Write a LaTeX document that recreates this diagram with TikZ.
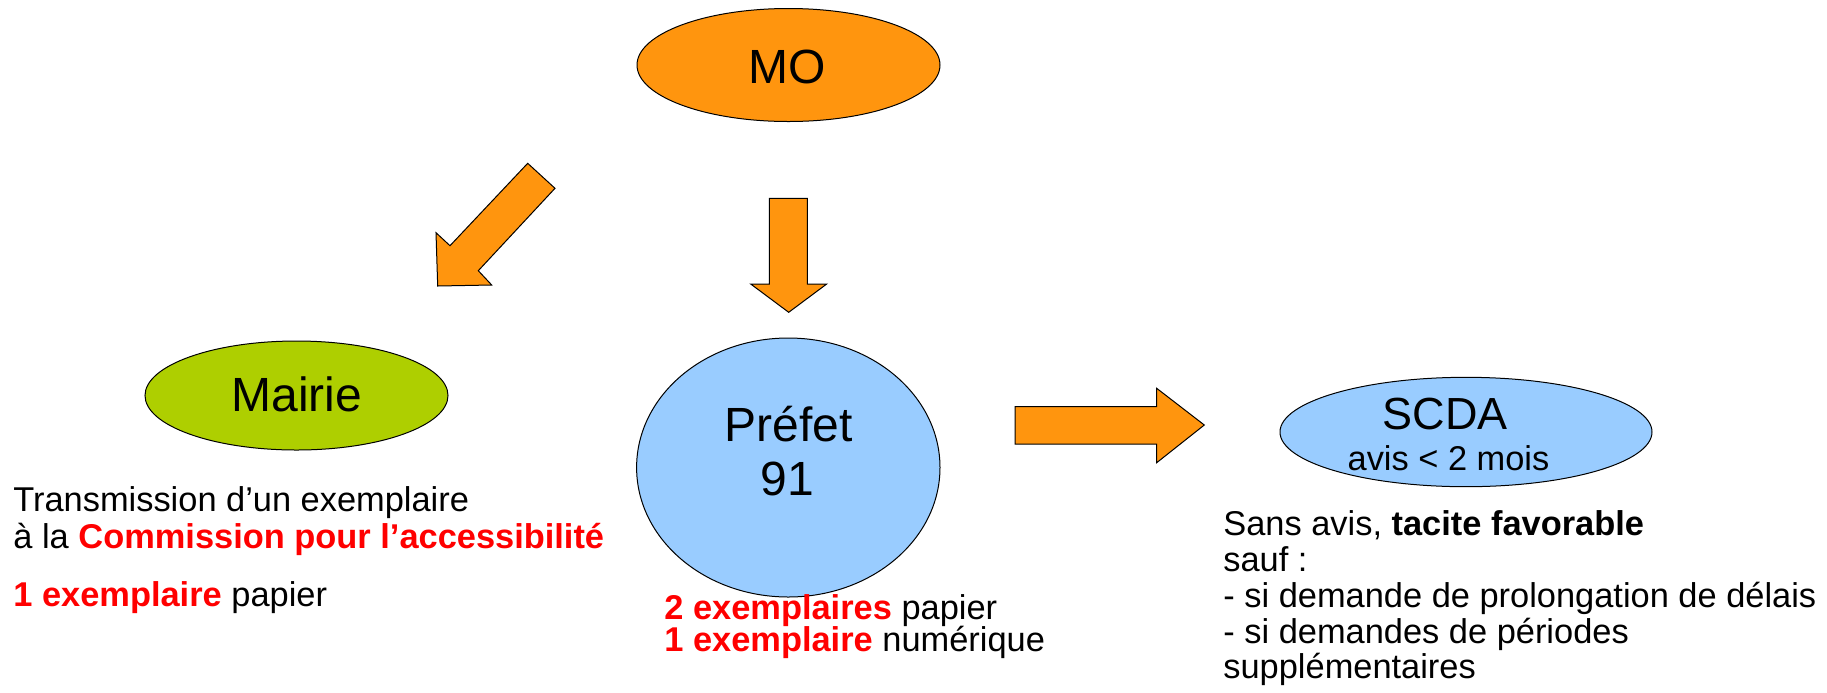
\documentclass[tikz,border=0pt]{standalone}
\usepackage{fontspec}
\setmainfont{Liberation Sans}
\usetikzlibrary{shapes.geometric}
\definecolor{orangeF}{HTML}{FF950E}
\definecolor{greenF}{HTML}{AECF00}
\definecolor{blueF}{HTML}{99CCFF}
\definecolor{redT}{HTML}{FF0000}
\begin{document}
\begin{tikzpicture}[x=0.5pt,y=-0.5pt,
  bubble/.style={ellipse, draw=black, line width=0.5pt, inner sep=0pt, outer sep=0pt},
  blockarrow/.style={draw=black, line width=0.5pt, fill=orangeF, line join=miter},
  big/.style={font=\fontsize{24}{27}\selectfont, anchor=base, inner sep=0pt},
  mid/.style={font=\fontsize{22.5}{26}\selectfont, anchor=base, inner sep=0pt},
  small/.style={font=\fontsize{17.2}{20}\selectfont, anchor=base, inner sep=0pt},
  body/.style={font=\fontsize{17.2}{20}\selectfont, anchor=base west, inner sep=0pt}]
\useasboundingbox (0,0) rectangle (1827,692);
% ellipses
\node[bubble, fill=orangeF, minimum width=151.5pt, minimum height=56.5pt] (mo) at (788.5,65) {};
\node[bubble, fill=greenF, minimum width=151.5pt, minimum height=54.5pt] (mairie) at (296.5,395.5) {};
\node[bubble, fill=blueF, minimum width=151.7pt, minimum height=129.5pt] (prefet) at (788.3,467.5) {};
\node[bubble, fill=blueF, minimum width=186pt, minimum height=54.7pt] (scda) at (1466,432) {};
% ellipse texts
\node[big] (motxt) at (787,83) {MO};
\node[big] (mairietxt) at (297,411) {Mairie};
\node[big] (prefettxt) at (788.5,441.7) {Préfet};
\node[big] (prefetnum) at (787,495) {91};
\node[mid] (scdatxt) at (1445,429.3) {SCDA};
\node[small] (scdaavis) at (1448.5,470) {avis < 2 mois};
% block arrows
\draw[blockarrow] (527.7,163.3) -- (555,188.3) -- (478.3,270.7) -- (491.7,285) -- (437.7,286) -- (436,232.7) -- (450,245.7) -- cycle;
\draw[blockarrow] (769.3,198.3) -- (807.3,198.3) -- (807.3,284) -- (826.7,284) -- (788.7,312.3) -- (750.7,284) -- (769.3,284) -- cycle;
\draw[blockarrow] (1015,406.7) -- (1156.7,406.7) -- (1156.7,388.3) -- (1204.3,425) -- (1156.7,462.7) -- (1156.7,444) -- (1015,444) -- cycle;
% left text
\node[body] (l1) at (13,511.7) {Transmission d’un exemplaire};
\node[body] (l2) at (13,548.3) {à la \textcolor{redT}{\textbf{Commission pour l’accessibilité}}};
\node[body] (l3) at (13,606.7) {\textcolor{redT}{\textbf{1 exemplaire}} papier};
% middle text
\node[body] (m1) at (664,619) {\textcolor{redT}{\textbf{2 exemplaires}} papier};
\node[body] (m2) at (664,651.7) {\textcolor{redT}{\textbf{1 exemplaire}} numérique};
% right text
\node[body] (r1) at (1223,535) {Sans avis, \textbf{tacite favorable}};
\node[body] (r2) at (1223,571) {sauf :};
\node[body] (r3) at (1223,607) {- si demande de prolongation de délais};
\node[body] (r4) at (1223,643) {- si demandes de périodes};
\node[body] (r5) at (1223,678) {supplémentaires};
\end{tikzpicture}
\end{document}
